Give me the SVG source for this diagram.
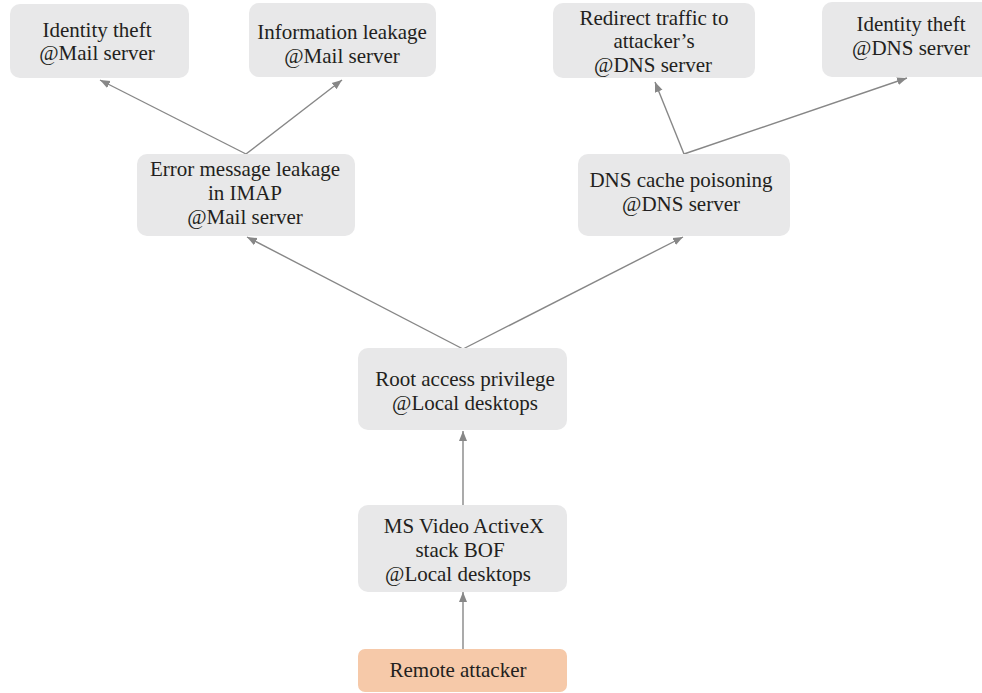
<svg xmlns="http://www.w3.org/2000/svg" width="982" height="693" viewBox="0 0 982 693">
<style>
.n{fill:#e8e8e9;}
.a{fill:#f6c9a9;}
.t{font-family:"Liberation Serif","Times New Roman",serif;font-size:21px;fill:#231f20;text-anchor:middle;}
.c{stroke:#878787;stroke-width:1.4;fill:none;marker-end:url(#ah);}
</style>
<defs>
<marker id="ah" viewBox="0 0 10 10" refX="10" refY="5" markerWidth="10" markerHeight="10" markerUnits="userSpaceOnUse" orient="auto">
<path d="M0,1 L10,5 L0,9 Z" fill="#878787"/>
</marker>
</defs>
<rect width="982" height="693" fill="#ffffff"/>
<g id="connectors">
<polyline class="c" points="246,154 100,80"/>
<polyline class="c" points="246,154 342,80"/>
<polyline class="c" points="684,154 655,82"/>
<polyline class="c" points="684,154 907,78"/>
<polyline class="c" points="463,349 247,237"/>
<polyline class="c" points="463,349 683,237"/>
<polyline class="c" points="463,505 463,431"/>
<polyline class="c" points="463,649 463,592"/>
</g>
<g id="n1"><rect class="n" x="10" y="4" width="179" height="74" rx="10"/>
<text class="t" x="97" y="37">Identity theft</text><text class="t" x="97" y="60">@Mail server</text></g>
<g id="n2"><rect class="n" x="249" y="3" width="187" height="74" rx="10"/>
<text class="t" x="342" y="39">Information leakage</text><text class="t" x="342" y="63">@Mail server</text></g>
<g id="n3"><rect class="n" x="553" y="3" width="202" height="75" rx="10"/>
<text class="t" x="654" y="25">Redirect traffic to</text><text class="t" x="654" y="48">attacker’s</text><text class="t" x="653" y="72">@DNS server</text></g>
<g id="n4"><rect class="n" x="822" y="2" width="175" height="75" rx="10"/>
<text class="t" x="911" y="31">Identity theft</text><text class="t" x="911" y="55">@DNS server</text></g>
<g id="n5"><rect class="n" x="137" y="154" width="218" height="82" rx="10"/>
<text class="t" x="245" y="176">Error message leakage</text><text class="t" x="245" y="200">in IMAP</text><text class="t" x="245" y="224">@Mail server</text></g>
<g id="n6"><rect class="n" x="578" y="154" width="212" height="82" rx="10"/>
<text class="t" x="681" y="187">DNS cache poisoning</text><text class="t" x="681" y="211">@DNS server</text></g>
<g id="n7"><rect class="n" x="358" y="348" width="209" height="82" rx="10"/>
<text class="t" x="465" y="386">Root access privilege</text><text class="t" x="465" y="410">@Local desktops</text></g>
<g id="n8"><rect class="n" x="358" y="505" width="209" height="87" rx="10"/>
<text class="t" x="464" y="533">MS Video ActiveX</text><text class="t" x="460" y="557">stack BOF</text><text class="t" x="458" y="581">@Local desktops</text></g>
<g id="n9"><rect class="a" x="358" y="649" width="209" height="43" rx="7"/>
<text class="t" x="458" y="677">Remote attacker</text></g>
</svg>
